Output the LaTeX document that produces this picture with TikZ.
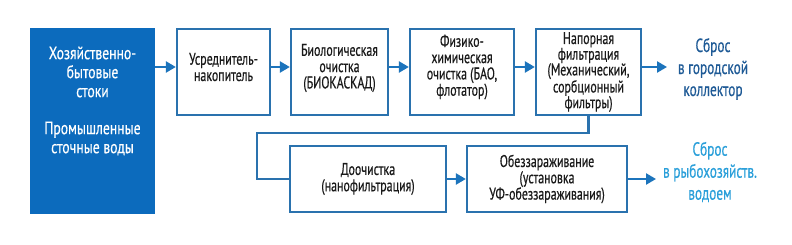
\documentclass[tikz,border=0pt]{standalone}
\usepackage{fontspec}
\setmainfont[FakeStretch=0.7,FakeBold=0.45]{PT Sans}
\newfontfamily\srcfont[FakeStretch=0.76,FakeBold=0.4]{PT Sans}
\usetikzlibrary{arrows.meta,calc}
\definecolor{lineblue}{HTML}{2A72AE}
\definecolor{arrowblue}{HTML}{1C74BC}
\definecolor{fillblue}{HTML}{0C6BBD}
\definecolor{darkout}{HTML}{1E5A96}
\definecolor{lightout}{HTML}{2A9FDA}
\definecolor{txt}{HTML}{1A1A1A}
\begin{document}
\begin{tikzpicture}[x=1pt,y=1pt,
  stage/.style={draw=lineblue,line width=2.3pt,fill=white,inner sep=1pt,align=center,
    font=\fontsize{17}{16.3}\selectfont,text=txt},
  stagetext/.style={align=center,font=\fontsize{17}{16.3}\selectfont,text=txt,inner sep=0pt},
  src/.style={fill=fillblue,draw=none},
  srctext/.style={align=center,text=white,inner sep=0pt,
    font=\srcfont\fontsize{18}{19}\selectfont},
  outtxt/.style={align=center,font=\fontsize{19}{22}\selectfont},
  flow/.style={draw=arrowblue,line width=2.3pt,-{Triangle[length=10pt,width=11pt]}},
  link/.style={draw=lineblue,line width=2.3pt}]
\useasboundingbox (0,0) rectangle (792,244);
\fill[white] (0,0) rectangle (792,244);
\node[src,minimum width=125pt,minimum height=186pt,
  label={[srctext,yshift=20pt]center:{Хозяйственно-\\бытовые\\стоки\\[18pt]Промышленные\\сточные воды}}] (src) at (92.5,123) {};
\node[stage,minimum width=93pt,minimum height=86pt,
  label={[stagetext,yshift=5pt]center:{Усреднитель-\\накопитель}}] (b1) at (223.5,172) {};
\node[stage,minimum width=97pt,minimum height=86pt,
  label={[stagetext,yshift=4pt]center:{Биологическая\\очистка\\(БИОКАСКАД)}}] (b2) at (339.5,172) {};
\node[stage,minimum width=104pt,minimum height=86pt,
  label={[stagetext,yshift=5pt]center:{Физико-\\химическая\\очистка (БАО,\\флотатор)}}] (b3) at (462,172) {};
\node[stage,minimum width=105pt,minimum height=86pt,
  label={[stagetext,font=\fontsize{17}{15.7}\selectfont]center:{Напорная\\фильтрация\\(Механический,\\сорбционный\\фильтры)}}] (b4) at (588.5,172) {};
\node[outtxt,text=darkout] (o1) at (713,175) {Сброс\\в городской\\коллектор};
\node[stage,minimum width=156pt,minimum height=66pt] (b5) at (368,65) {Доочистка\\(нанофильтрация)};
\node[stage,minimum width=160pt,minimum height=66pt] (b6) at (547,65) {Обеззараживание\\(установка\\УФ-обеззараживания)};
\node[outtxt,text=lightout] (o2) at (710,72) {Сброс\\в рыбохозяйств.\\водоем};
\coordinate (top) at (0,177);
\draw[flow] (src.east |- top) -- (b1.west |- top);
\draw[flow] (b1.east |- top) -- (b2.west |- top);
\draw[flow] (b2.east |- top) -- (b3.west |- top);
\draw[flow] (b3.east |- top) -- (b4.west |- top);
\coordinate (t1) at (667,177);
\draw[flow] (b4.east |- top) -- (t1);
\coordinate (k1) at (257,111);
\draw[link] (b4.south) |- (k1) |- (b5.west);
\coordinate (t2) at (656,65);
\draw[flow] (b5.east) -- (b6.west);
\draw[flow] (b6.east) -- (t2);
\end{tikzpicture}
\end{document}
